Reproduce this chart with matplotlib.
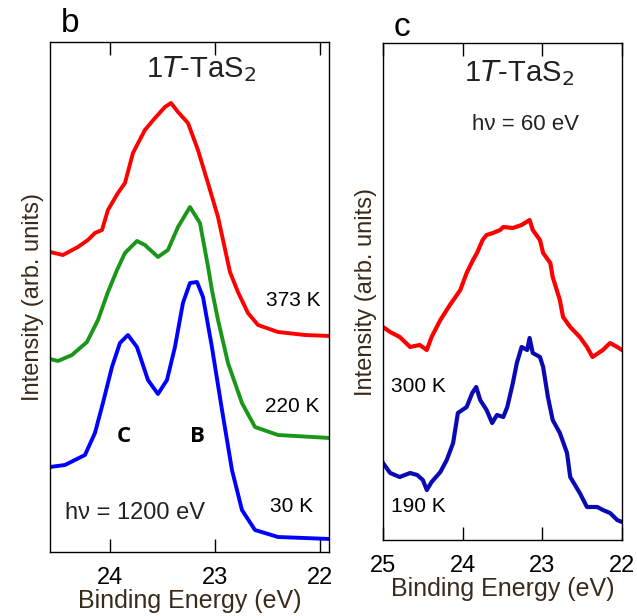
import matplotlib
matplotlib.use("Agg")
import matplotlib.pyplot as plt

plt.rcParams['font.family'] = ['Liberation Sans', 'DejaVu Sans']

# panel b : 1T-TaS2, hv = 1200 eV
b_red_E = [24.571, 24.448, 24.305, 24.210, 24.143, 24.076, 24.019, 23.924, 23.857, 23.781,
           23.667, 23.571, 23.476, 23.419, 23.352, 23.257, 23.162, 23.067, 22.971, 22.857,
           22.781, 22.686, 22.590, 22.400, 22.143, 21.905]
b_red_I = [300, 297, 305, 312, 319, 322, 342, 359, 369, 399,
           422, 434, 445, 449, 440, 429, 402, 369, 335, 280,
           260, 239, 227, 220, 217, 216]

b_green_E = [24.571, 24.495, 24.362, 24.219, 24.114, 24.019, 23.933, 23.857, 23.743, 23.667,
             23.543, 23.448, 23.352, 23.238, 23.143, 23.067, 23.029, 22.971, 22.876, 22.743,
             22.619, 22.400, 21.905]
b_green_I = [193, 191, 197, 210, 232, 260, 282, 299, 311, 307,
             295, 302, 325, 345, 329, 286, 262, 232, 189, 149,
             125, 117, 114]

b_blue_E = [24.571, 24.429, 24.238, 24.143, 24.067, 23.981, 23.905, 23.829, 23.743, 23.638,
            23.543, 23.457, 23.381, 23.305, 23.238, 23.171, 23.114, 23.029, 22.933, 22.838,
            22.743, 22.619, 22.400, 21.905]
b_blue_I = [85, 87, 97, 119, 149, 185, 209, 217, 205, 172,
            158, 172, 205, 249, 269, 270, 255, 205, 142, 82,
            42, 22, 15, 13]

# panel c : 1T-TaS2, hv = 60 eV
c_red_E = [25.00, 24.91, 24.79, 24.66, 24.54, 24.45, 24.39, 24.28, 24.16, 24.03, 23.95,
           23.87, 23.82, 23.75, 23.70, 23.62, 23.53, 23.49, 23.37, 23.26, 23.16, 23.12,
           23.03, 22.99, 22.90, 22.87, 22.78, 22.74, 22.65, 22.53, 22.44, 22.37, 22.24,
           22.15, 22.06, 22.00]
c_red_I = [213, 208, 203, 193, 195, 190, 203, 220, 235, 250, 267,
           280, 287, 300, 305, 307, 310, 313, 312, 315, 320, 310,
           300, 287, 277, 263, 240, 223, 213, 203, 193, 183, 190,
           197, 193, 190]

c_blue_E = [25.00, 24.91, 24.79, 24.66, 24.57, 24.50, 24.45, 24.39, 24.28, 24.20, 24.12,
            24.06, 23.95, 23.88, 23.83, 23.78, 23.70, 23.63, 23.57, 23.49, 23.44, 23.37,
            23.32, 23.26, 23.19, 23.16, 23.12, 23.03, 22.99, 22.93, 22.87, 22.78, 22.69,
            22.65, 22.53, 22.44, 22.31, 22.24, 22.15, 22.06, 22.00]
c_blue_I = [77, 67, 63, 67, 65, 60, 50, 58, 68, 80, 97,
            127, 133, 147, 153, 140, 130, 117, 125, 123, 133, 157,
            177, 193, 190, 202, 187, 183, 173, 143, 120, 107, 87,
            63, 47, 33, 33, 30, 27, 20, 18]

W, H = 637, 616
fig = plt.figure(figsize=(W / 100, H / 100), dpi=100)

def px(x, y):
    return x / W, 1 - y / H

axb = fig.add_axes([50 / W, 1 - 552 / H, 279 / W, 510 / H])
axc = fig.add_axes([383 / W, 1 - 540 / H, 239 / W, 497 / H])

axb.plot(b_red_E, b_red_I, color='#ff0000', lw=2.8, solid_joinstyle='round')
axb.plot(b_green_E, b_green_I, color='#1a961a', lw=2.8, solid_joinstyle='round')
axb.plot(b_blue_E, b_blue_I, color='#0000ff', lw=2.8, solid_joinstyle='round')
axb.set_xlim(24.571, 21.914)
axb.set_ylim(0, 510)
axb.set_xticks([24, 23, 22])

axc.plot(c_red_E, c_red_I, color='#ff0000', lw=3)
axc.plot(c_blue_E, c_blue_I, color='#0a0ab4', lw=3)
axc.set_xlim(25, 22)
axc.set_ylim(0, 497)
axc.set_xticks([25, 24, 23, 22])

for ax in (axb, axc):
    ax.set_yticks([])
    ax.tick_params(axis='x', direction='in', length=9.5, width=1, top=True,
                   labelsize=17, pad=11)
    for s in ax.spines.values():
        s.set_linewidth(1)
    ax.set_xlabel('Binding Energy (eV)', fontsize=18, color='#3a2a1a', labelpad=0)
    ax.set_ylabel('Intensity (arb. units)', fontsize=17, color='#3a2a1a', labelpad=4)

kw = dict(ha='center', va='center')
fig.text(*px(70, 23), 'b', fontsize=24, **kw)
fig.text(*px(402, 28), 'c', fontsize=24, **kw)
fig.text(*px(201, 69), r'1$\it{T}$-TaS$_2$', fontsize=21, color='#222222', **kw)
fig.text(*px(519, 73), r'1$\it{T}$-TaS$_2$', fontsize=21, color='#222222', **kw)
fig.text(*px(525, 124), 'hν = 60 eV', fontsize=16, color='#222222', **kw)
fig.text(*px(135, 513), 'hν = 1200 eV', fontsize=17, color='#222222', **kw)
fig.text(*px(293, 301), '373 K', fontsize=15, **kw)
fig.text(*px(292, 406), '220 K', fontsize=15, **kw)
fig.text(*px(292, 506), '30 K', fontsize=15, **kw)
fig.text(*px(124, 437), 'C', fontsize=16, family='Open Sans', fontweight='bold', **kw)
fig.text(*px(197, 437), 'B', fontsize=16, family='Open Sans', fontweight='bold', **kw)
fig.text(*px(418, 386), '300 K', fontsize=15, **kw)
fig.text(*px(418, 506), '190 K', fontsize=15, **kw)

fig.savefig('out.png', dpi=100)
